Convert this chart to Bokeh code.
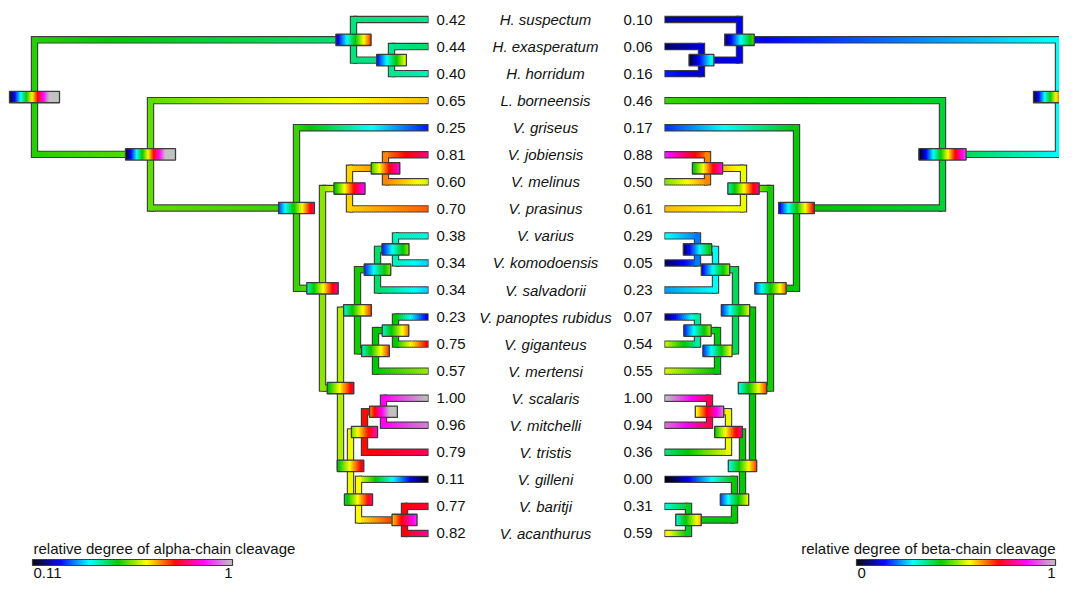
import numpy as np
from bokeh.plotting import figure
from bokeh.models import Range1d
from bokeh.embed import file_html
from bokeh.resources import INLINE
from bokeh.core.properties import value

# ---------------- data ----------------
species = ["H. suspectum", "H. exasperatum", "H. horridum", "L. borneensis",
           "V. griseus", "V. jobiensis", "V. melinus", "V. prasinus",
           "V. varius", "V. komodoensis", "V. salvadorii", "V. panoptes rubidus",
           "V. giganteus", "V. mertensi", "V. scalaris", "V. mitchelli",
           "V. tristis", "V. gilleni", "V. baritji", "V. acanthurus"]
alpha_tips = [0.42, 0.44, 0.40, 0.65, 0.25, 0.81, 0.60, 0.70, 0.38, 0.34,
              0.34, 0.23, 0.75, 0.57, 1.00, 0.96, 0.79, 0.11, 0.77, 0.82]
beta_tips = [0.10, 0.06, 0.16, 0.46, 0.17, 0.88, 0.50, 0.61, 0.29, 0.05,
             0.23, 0.07, 0.54, 0.55, 1.00, 0.94, 0.36, 0.00, 0.31, 0.59]

# internal nodes: children are tip indices or node names
node_names = ["root", "H", "Hs", "B", "V", "N288", "J", "JM", "N388", "N310",
              "VKS", "VK", "PGM", "PG", "N466", "SMT", "SM", "GBA", "BA"]
node_kids = [("H", "B"), (0, "Hs"), (1, 2), (3, "V"), (4, "N288"), ("J", "N388"),
             ("JM", 7), (5, 6), ("N310", "N466"), ("VKS", "PGM"), ("VK", 10),
             (8, 9), ("PG", 13), (11, 12), ("SMT", "GBA"), ("SM", 16), (14, 15),
             (17, "BA"), (18, 19)]
node_age = [393, 74, 36, 277, 131, 105, 78, 42, 87, 70, 50, 32, 52, 32, 77, 63,
            44, 69, 23]

# ancestral estimates and confidence ranges
alpha_nodes = [0.51, 0.43, 0.42, 0.54, 0.52, 0.56, 0.64, 0.68, 0.58, 0.50,
               0.44, 0.40, 0.49, 0.49, 0.61, 0.74, 0.87, 0.62, 0.75]
alpha_lo = [0.11, 0.20, 0.23, 0.11, 0.26, 0.39, 0.47, 0.51, 0.47, 0.38,
            0.25, 0.24, 0.38, 0.38, 0.47, 0.54, 0.66, 0.45, 0.64]
alpha_hi = [1.22, 0.72, 0.62, 1.22, 0.80, 0.82, 0.89, 0.87, 0.78, 0.72,
            0.56, 0.56, 0.72, 0.69, 0.78, 0.84, 1.13, 0.80, 0.91]
beta_nodes = [0.29, 0.13, 0.12, 0.40, 0.43, 0.44, 0.56, 0.64, 0.43, 0.38,
              0.29, 0.21, 0.42, 0.34, 0.43, 0.56, 0.76, 0.43, 0.41]
beta_lo = [0.00, 0.05, 0.02, 0.00, 0.12, 0.18, 0.32, 0.40, 0.28, 0.16,
           0.12, 0.05, 0.16, 0.15, 0.28, 0.42, 0.55, 0.17, 0.30]
beta_hi = [1.25, 0.48, 0.32, 0.92, 0.72, 0.66, 0.80, 0.85, 0.68, 0.56,
           0.52, 0.45, 0.58, 0.52, 0.68, 0.80, 0.95, 0.57, 0.62]

alpha_scale = [0.11, 1.0]
beta_scale = [0.0, 1.0]
alpha_title = "relative degree of alpha-chain cleavage"
beta_title = "relative degree of beta-chain cleavage"
alpha_tick_labels = ["0.11", "1"]
beta_tick_labels = ["0", "1"]

# ---------------- style / layout ----------------
STOPS = [(0 / 7, (0, 0, 0)), (1 / 7, (0, 0, 255)), (2 / 7, (0, 255, 255)),
         (3 / 7, (0, 200, 0)), (4 / 7, (255, 255, 0)), (5 / 7, (255, 0, 0)),
         (6 / 7, (255, 0, 255)), (1.0, (192, 192, 192))]


def cmap(t):
    t = min(max(t, 0.0), 1.0)
    for i in range(len(STOPS) - 1):
        t0, c0 = STOPS[i]
        t1, c1 = STOPS[i + 1]
        if t <= t1:
            f = (t - t0) / (t1 - t0)
            return "#%02x%02x%02x" % tuple(int(round(a + (b - a) * f)) for a, b in zip(c0, c1))
    return "#c0c0c0"


W, H = 1059, 580
FONT = "Liberation Sans"
ROW0, ROW_DY = 19.0, 27.05
LEFT_TIP, RIGHT_TIP = 427.0, 665.0
HW, OW = 2.6, 1.1          # half line width, outline width
EDGE = "#3c3c3c"
BOX_H = 5.7
LEG_TITLE_Y, LEG_BAR_Y0, LEG_BAR_Y1, LEG_LAB_Y = 548, 559, 565, 572

p = figure(width=W, height=H, x_range=Range1d(0, W), y_range=Range1d(H, 0),
           output_backend="svg", toolbar_location=None,
           x_axis_location=None, y_axis_location=None, min_border=0)
p.grid.visible = False
p.outline_line_color = None
p.background_fill_color = "white"


def tip_y(i):
    return ROW0 + ROW_DY * i


def node_y(c):
    if isinstance(c, int):
        return tip_y(c)
    k = node_kids[node_names.index(c)]
    return 0.5 * (node_y(k[0]) + node_y(k[1]))


def new():
    return dict(l=[], r=[], t=[], b=[], c=[])


outl, fill, bfill, bout = new(), new(), new(), new()


def add(d, l, r, t, b, c=None):
    d["l"].append(min(l, r)); d["r"].append(max(l, r))
    d["t"].append(t); d["b"].append(b)
    if c is not None:
        d["c"].append(c)


def build(tips, nodes, lo, hi, scale, tip_x, direction):
    norm = lambda v: (v - scale[0]) / (scale[1] - scale[0])

    def xpos(c):
        if isinstance(c, int):
            return tip_x
        return tip_x - direction * node_age[node_names.index(c)]

    def tval(c):
        if isinstance(c, int):
            return norm(tips[c])
        return norm(nodes[node_names.index(c)])

    for n, name in enumerate(node_names):
        xn = xpos(name)
        tn = tval(name)
        ys = []
        for c in node_kids[n]:
            yc = node_y(c)
            ys.append(yc)
            xc = xpos(c)
            tc = tval(c)
            is_tip = isinstance(c, int)
            s = 1 if xc > xn else -1
            xe = xc + s * OW if is_tip else xc
            add(outl, xn, xe, yc - HW - OW, yc + HW + OW)
            npc = max(2, int(abs(xc - xn) / 2.0))
            for k in range(npc):
                x0 = xn + (xc - xn) * k / npc
                x1 = xn + (xc - xn) * (k + 1) / npc
                tm = tn + (tc - tn) * (k + 0.5) / npc
                add(fill, min(x0, x1) - 0.35, max(x0, x1) + 0.35, yc - HW, yc + HW, cmap(tm))
        y1, y2 = min(ys), max(ys)
        add(outl, xn - HW - OW, xn + HW + OW, y1 - HW - OW, y2 + HW + OW)
        add(fill, xn - HW, xn + HW, y1 - HW, y2 + HW, cmap(tn))

    # node boxes
    for n, name in enumerate(node_names):
        xn = xpos(name)
        yn = node_y(name)
        tl, th = norm(lo[n]), norm(hi[n])
        w = 14 + 36 * (min(th, 1.0) - max(tl, 0.0))
        l = xn - w / 2
        npc = max(4, int(w))
        for k in range(npc):
            x0 = l + w * k / npc
            x1 = l + w * (k + 1) / npc
            tm = tl + (th - tl) * (k + 0.5) / npc
            add(bfill, x0 - 0.3, x1 + 0.3, yn - BOX_H, yn + BOX_H, cmap(tm))
        add(bout, l, l + w, yn - BOX_H, yn + BOX_H)


build(alpha_tips, alpha_nodes, alpha_lo, alpha_hi, alpha_scale, LEFT_TIP, 1)
build(beta_tips, beta_nodes, beta_lo, beta_hi, beta_scale, RIGHT_TIP, -1)

p.quad(left=outl["l"], right=outl["r"], top=outl["t"], bottom=outl["b"],
       fill_color=EDGE, line_color=None)
p.quad(left=fill["l"], right=fill["r"], top=fill["t"], bottom=fill["b"],
       fill_color=fill["c"], line_color=None)
p.quad(left=bfill["l"], right=bfill["r"], top=bfill["t"], bottom=bfill["b"],
       fill_color=bfill["c"], line_color=None)
p.quad(left=bout["l"], right=bout["r"], top=bout["t"], bottom=bout["b"],
       fill_color=None, line_color=EDGE, line_width=1.3)

# ---------------- texts ----------------
ys = [tip_y(i) for i in range(len(species))]
p.text(x=[545] * len(species), y=ys, text=species, text_font=value(FONT),
       text_font_size="15px", text_font_style="italic", text_align="center",
       text_baseline="middle", text_color="#111111")
p.text(x=[436] * len(species), y=ys, text=["%.2f" % v for v in alpha_tips],
       text_font=value(FONT), text_font_size="15px", text_align="left",
       text_baseline="middle", text_color="#111111")
p.text(x=[623] * len(species), y=ys, text=["%.2f" % v for v in beta_tips],
       text_font=value(FONT), text_font_size="15px", text_align="left",
       text_baseline="middle", text_color="#111111")

# ---------------- colour bars ----------------
def colorbar(x0, x1, title, labels, title_align):
    n = int(x1 - x0)
    ts = [(k + 0.5) / n for k in range(n)]
    ls = [x0 + (x1 - x0) * k / n - 0.3 for k in range(n)]
    rs = [x0 + (x1 - x0) * (k + 1) / n + 0.3 for k in range(n)]
    p.quad(left=ls, right=rs, top=[LEG_BAR_Y0] * n, bottom=[LEG_BAR_Y1] * n,
           fill_color=[cmap(t) for t in ts], line_color=None)
    p.quad(left=[x0], right=[x1], top=[LEG_BAR_Y0], bottom=[LEG_BAR_Y1], fill_color=None,
           line_color=EDGE, line_width=1.2)
    tx = x0 + 1 if title_align == "left" else x1
    p.text(x=[tx], y=[LEG_TITLE_Y], text=[title], text_font=value(FONT), text_font_size="15px",
           text_align=title_align, text_baseline="middle", text_color="#111111")
    p.text(x=[x0 + 1], y=[LEG_LAB_Y], text=[labels[0]], text_font=value(FONT),
           text_font_size="15px", text_align="left", text_baseline="middle",
           text_color="#111111")
    p.text(x=[x1], y=[LEG_LAB_Y], text=[labels[1]], text_font=value(FONT),
           text_font_size="15px", text_align="right", text_baseline="middle",
           text_color="#111111")


colorbar(32, 232, alpha_title, alpha_tick_labels, "left")
colorbar(856, 1055, beta_title, beta_tick_labels, "right")

open("out.html", "w").write(file_html(p, INLINE))
